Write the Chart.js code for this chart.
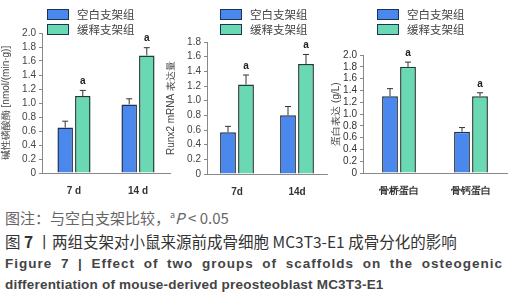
<!DOCTYPE html>
<html>
<head>
<meta charset="utf-8">
<script src="https://cdn.jsdelivr.net/npm/chart.js@4"></script>
<style>
  body { margin: 0; width: 509px; height: 300px; background: #fff; position: relative; overflow: hidden; font-family: "Noto Sans CJK SC", "Noto Sans", sans-serif; }
  .panel { position: absolute; top: 0; }
  .legend { position: absolute; font-size: 11.5px; color: #444; line-height: 15px; }
  .legend div { display: flex; align-items: center; height: 15px; }
  .legend span.box { display: inline-block; width: 20px; height: 9px; border: 1px solid #1d3354; margin-right: 8px; }
  .cap { position: absolute; left: 5px; white-space: nowrap; }
  #c1 { top: 207px; font-size: 15px; color: #666; }
  #c2 { top: 230px; font-size: 15.5px; color: #333; }
  #c3 { top: 256px; width: 498px; font-family: "Liberation Sans", sans-serif; font-weight: bold; font-size: 13.5px; letter-spacing: 1px; color: #444; text-align: justify; text-align-last: justify; }
  #c4 { top: 277px; font-family: "Liberation Sans", sans-serif; font-weight: bold; font-size: 13.5px; letter-spacing: 0.2px; color: #444; }
</style>
</head>
<body>

<div class="panel" style="left:0"><canvas id="ch1" width="172" height="195"></canvas></div>
<div class="panel" style="left:165px"><canvas id="ch2" width="167" height="195"></canvas></div>
<div class="panel" style="left:330px"><canvas id="ch3" width="179" height="195"></canvas></div>

<div class="legend" id="lg1" style="left:47px; top:7px"></div>
<div class="legend" id="lg2" style="left:220px; top:7px"></div>
<div class="legend" id="lg3" style="left:377px; top:7px"></div>

<div class="cap" id="c1">图注：与空白支架比较，<sup style="font-size:9px">a</sup><i>P</i> &lt; 0.05</div>
<div class="cap" id="c2">图 <b>7</b> 丨两组支架对小鼠来源前成骨细胞 MC3T3-E1 成骨分化的影响</div>
<div class="cap" id="c3">Figure 7 | Effect of two groups of scaffolds on the osteogenic</div>
<div class="cap" id="c4">differentiation of mouse-derived preosteoblast MC3T3-E1</div>

<script>
const seriesNames = ['空白支架组', '缓释支架组'];
const blueFill = '#4a88ee';
const greenFill = '#6ad8b2';

// panel 1: alkaline phosphatase
const alpDays = ['7 d', '14 d'];
const alpBlank = [0.65, 0.98];
const alpBlankErr = [0.09, 0.08];
const alpRelease = [1.10, 1.68];
const alpReleaseErr = [0.08, 0.11];
const alpTicks = [0, 0.2, 0.4, 0.6, 0.8, 1.0, 1.2, 1.4, 1.6, 1.8, 2.0];

// panel 2: Runx2 mRNA
const runxDays = ['7d', '14d'];
const runxBlank = [0.57, 0.80];
const runxBlankErr = [0.08, 0.12];
const runxRelease = [1.22, 1.50];
const runxReleaseErr = [0.13, 0.13];
const runxTicks = [0, 0.2, 0.4, 0.6, 0.8, 1.0, 1.2, 1.4, 1.6, 1.8];

// panel 3: protein expression
const protNames = ['骨桥蛋白', '骨钙蛋白'];
const protBlank = [1.30, 0.70];
const protBlankErr = [0.13, 0.07];
const protRelease = [1.80, 1.30];
const protReleaseErr = [0.08, 0.06];
const protTicks = [0, 0.2, 0.4, 0.6, 0.8, 1.0, 1.2, 1.4, 1.6, 1.8, 2.0];

const sigMark = 'a';

const errorBars = {
  id: 'errorBars',
  afterDatasetsDraw(chart) {
    const c = chart.ctx;
    const y = chart.scales.y;
    chart.data.datasets.forEach((ds, i) => {
      const meta = chart.getDatasetMeta(i);
      meta.data.forEach((bar, j) => {
        const top = y.getPixelForValue(ds.data[j] + ds.err[j]);
        c.save();
        c.strokeStyle = '#333';
        c.lineWidth = 1;
        c.beginPath();
        c.moveTo(bar.x, bar.y);
        c.lineTo(bar.x, top);
        c.moveTo(bar.x - 3, top);
        c.lineTo(bar.x + 3, top);
        c.stroke();
        if (ds.sig) {
          c.fillStyle = '#222';
          c.font = 'bold 10px "Liberation Sans", sans-serif';
          c.textAlign = 'center';
          c.textBaseline = 'bottom';
          c.fillText(sigMark, bar.x, top - 4);
        }
        c.restore();
      });
    });
  }
};

function makeChart(id, legendId, cats, blank, blankErr, release, releaseErr, yTicks, title, cfg) {
  const datasets = [
    { label: seriesNames[0], data: blank, err: blankErr, backgroundColor: blueFill, borderColor: '#1d3354', borderWidth: 1.5, sig: false },
    { label: seriesNames[1], data: release, err: releaseErr, backgroundColor: greenFill, borderColor: '#1d3f36', borderWidth: 1.5, sig: true }
  ];
  const lg = document.getElementById(legendId);
  datasets.forEach(ds => {
    const row = document.createElement('div');
    row.innerHTML = '<span class="box" style="background:' + ds.backgroundColor + '"></span>' + ds.label;
    lg.appendChild(row);
  });

  new Chart(document.getElementById(id), {
    type: 'bar',
    data: { labels: cats, datasets: datasets },
    plugins: [errorBars],
    options: {
      responsive: false,
      animation: false,
      categoryPercentage: cfg.cat,
      barPercentage: 0.88,
      layout: { padding: { top: cfg.top, right: cfg.right, left: 0, bottom: 0 } },
      plugins: { legend: { display: false }, tooltip: { enabled: false } },
      scales: {
        x: {
          grid: { display: false },
          border: { color: '#888', width: 1 },
          ticks: { color: '#333', font: { size: 10, weight: 'bold', family: 'Liberation Sans' }, padding: 4 },
          afterFit(s) { s.height = cfg.xh; }
        },
        y: {
          type: 'linear',
          min: yTicks[0], max: yTicks[yTicks.length - 1],
          afterBuildTicks(s) { s.ticks = yTicks.map(v => ({ value: v })); },
          grid: { display: true, drawOnChartArea: false, tickLength: 3, color: '#888' },
          border: { color: '#888', width: 1 },
          ticks: {
            count: yTicks.length, maxTicksLimit: 30, autoSkip: false, autoSkipPadding: 0,
            color: cfg.tickColor, padding: 3,
            font: { size: cfg.tick, family: 'Liberation Sans', lineHeight: 1 },
            callback: v => v === 0 ? '0' : v.toFixed(1)
          },
          title: { display: true, text: title, color: '#444', font: { size: 10 }, padding: 0 },
          afterFit(s) { s.width = cfg.yw; }
        }
      }
    }
  });
}

makeChart('ch1', 'lg1', alpDays, alpBlank, alpBlankErr, alpRelease, alpReleaseErr, alpTicks,
  '碱性磷酸酶 [nmol/(min·g)]', { top: 33, right: 2, yw: 42, xh: 22, cat: 0.55, tick: 10, tickColor: '#444' });
makeChart('ch2', 'lg2', runxDays, runxBlank, runxBlankErr, runxRelease, runxReleaseErr, runxTicks,
  'Runx2 mRNA 表达量', { top: 42, right: 5, yw: 42, xh: 21, cat: 0.6, tick: 10, tickColor: '#444' });
makeChart('ch3', 'lg3', protNames, protBlank, protBlankErr, protRelease, protReleaseErr, protTicks,
  '蛋白表达 (g/L)', { top: 55, right: 2, yw: 33, xh: 22, cat: 0.5, tick: 10, tickColor: '#333' });
</script>
</body>
</html>
